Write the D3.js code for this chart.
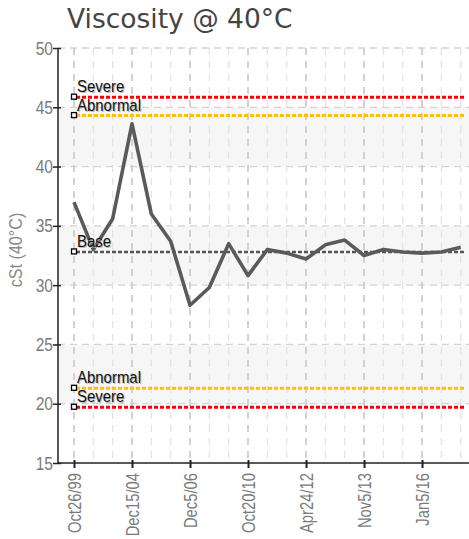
<!DOCTYPE html>
<html>
<head>
<meta charset="utf-8">
<script src="https://cdn.jsdelivr.net/npm/d3@7"></script>
<style>
  body { margin: 0; background: #fff; }
  text { font-family: "Liberation Sans", sans-serif; }
</style>
</head>
<body>
<div id="viz"></div>
<script>
// viscosity readings, one per sample (oldest first)
var values = [37.0, 33.0, 35.6, 43.6, 36.0, 33.7, 28.3, 29.8, 33.5, 30.8,
              33.0, 32.7, 32.2, 33.4, 33.8, 32.5, 33.0, 32.8, 32.7, 32.8, 33.2];
var tickIndex = [0, 3, 6, 9, 12, 15, 18];
var tickLabels = ['Oct26/99', 'Dec15/04', 'Dec5/06', 'Oct20/10', 'Apr24/12', 'Nov5/13', 'Jan5/16'];
var yTicks = [15, 20, 25, 30, 35, 40, 45, 50];
var bands = [[20, 25], [30, 35], [40, 45]];
var limitNames = ['Severe', 'Abnormal', 'Base', 'Abnormal', 'Severe'];
var limitValues = [45.85, 44.3, 32.8, 21.3, 19.7];
var limitColors = ['#ff0000', '#ffc000', '#555555', '#ffc000', '#ff0000'];

var width = 469,
    height = 539,
    plotLeft = 58,
    plotRight = 469,
    plotTop = 48,
    plotBottom = 463;

var x = d3.scaleLinear()
    .domain([0, values.length - 1])
    .range([74, 460.7]);

var y = d3.scaleLinear()
    .domain([15, 50])
    .range([plotBottom, plotTop]);

var svg = d3.select('#viz').append('svg')
    .attr('width', width)
    .attr('height', height);

// shaded bands
svg.selectAll('rect.band').data(bands)
  .enter().append('rect')
    .attr('class', 'band')
    .attr('x', plotLeft)
    .attr('width', plotRight - plotLeft)
    .attr('y', function(d) { return y(d[1]); })
    .attr('height', function(d) { return y(d[0]) - y(d[1]); })
    .style('fill', '#f6f6f6');

// horizontal grid
svg.selectAll('line.hgrid').data(yTicks.slice(1))
  .enter().append('line')
    .attr('x1', plotLeft).attr('x2', plotRight)
    .attr('y1', function(d) { return y(d); })
    .attr('y2', function(d) { return y(d); })
    .style('stroke', '#d4d4d4')
    .style('stroke-width', 1.3)
    .style('stroke-dasharray', '7,5');

// vertical grid
svg.selectAll('line.vgrid').data(d3.range(values.length))
  .enter().append('line')
    .attr('x1', function(d) { return x(d); })
    .attr('x2', function(d) { return x(d); })
    .attr('y1', plotTop).attr('y2', plotBottom)
    .style('stroke', function(d) { return tickIndex.indexOf(d) >= 0 ? '#c8c8c8' : '#e2e2e2'; })
    .style('stroke-width', function(d) { return tickIndex.indexOf(d) >= 0 ? 1.6 : 1.2; })
    .style('stroke-dasharray', '7,6');

// limit lines
svg.selectAll('line.limit').data(limitValues)
  .enter().append('line')
    .attr('x1', 76).attr('x2', 464)
    .attr('y1', function(d) { return y(d); })
    .attr('y2', function(d) { return y(d); })
    .style('stroke', function(d, i) { return limitColors[i]; })
    .style('stroke-width', function(d, i) { return i == 2 ? 2.5 : 3; })
    .style('stroke-dasharray', '4,2');

// data line
var line = d3.line()
    .x(function(d, i) { return x(i); })
    .y(function(d) { return y(d); });

svg.append('path')
    .datum(values)
    .attr('d', line)
    .style('fill', 'none')
    .style('stroke', '#5a5a5a')
    .style('stroke-width', 3.6)
    .style('stroke-linejoin', 'round');

// limit markers and labels
svg.selectAll('rect.marker').data(limitValues)
  .enter().append('rect')
    .attr('x', 71.5)
    .attr('y', function(d) { return y(d) - 3; })
    .attr('width', 5).attr('height', 5)
    .style('fill', '#fff')
    .style('stroke', '#000')
    .style('stroke-width', 1.3);

svg.selectAll('text.shadow').data(limitValues)
  .enter().append('text')
    .attr('transform', function(d) { return 'translate(78,' + (y(d) - 4) + ') scale(0.88,1)'; })
    .style('font-size', '17px')
    .style('fill', '#bbb')
    .text(function(d, i) { return limitNames[i]; });

svg.selectAll('text.limit').data(limitValues)
  .enter().append('text')
    .attr('transform', function(d) { return 'translate(77,' + (y(d) - 5) + ') scale(0.88,1)'; })
    .style('font-size', '17px')
    .style('fill', '#111')
    .text(function(d, i) { return limitNames[i]; });

// axes
var yAxis = d3.axisLeft(y)
    .tickValues(yTicks)
    .tickSize(5)
    .tickPadding(1);

var gy = svg.append('g')
    .attr('transform', 'translate(' + plotLeft + ',0)')
    .call(yAxis);
gy.select('.domain').attr('d', 'M0,' + plotTop + 'V' + plotBottom).style('stroke', '#222').style('stroke-width', 1.5);
gy.selectAll('.tick line').attr('x1', 3).style('stroke', '#222').style('stroke-width', 1.5);
gy.selectAll('.tick text')
    .attr('x', 0)
    .attr('transform', 'translate(-5,0) scale(0.82,1)')
    .style('font-family', '"Liberation Sans", sans-serif')
    .style('font-size', '19px')
    .style('fill', '#7a7a7a');

var xAxis = d3.axisBottom(x)
    .tickValues(tickIndex)
    .tickSize(5)
    .tickFormat(function(d, i) { return tickLabels[i]; });

var gx = svg.append('g')
    .attr('transform', 'translate(0,' + plotBottom + ')')
    .call(xAxis);
gx.select('.domain').attr('d', 'M' + plotLeft + ',0H' + plotRight).style('stroke', '#222').style('stroke-width', 1.5);
gx.selectAll('.tick line').attr('y1', -3).style('stroke', '#222').style('stroke-width', 2);
gx.selectAll('.tick text')
    .attr('transform', 'translate(0,10) rotate(-90) scale(0.8,1)')
    .attr('x', 0)
    .attr('y', 0)
    .attr('dy', '0.35em')
    .style('text-anchor', 'end')
    .style('font-family', '"Liberation Sans", sans-serif')
    .style('font-size', '18.5px')
    .style('fill', '#7a7a7a');

// y axis title
svg.append('text')
    .attr('transform', 'translate(22,250) rotate(-90) scale(0.85,1)')
    .style('text-anchor', 'middle')
    .style('font-size', '19px')
    .style('fill', '#8a8a8a')
    .text('cSt (40°C)');

// chart title
svg.append('text')
    .attr('x', 67)
    .attr('y', 28)
    .style('font-family', '"DejaVu Sans", sans-serif')
    .style('font-size', '26.5px')
    .style('fill', '#444')
    .text('Viscosity @ 40°C');
</script>
</body>
</html>
